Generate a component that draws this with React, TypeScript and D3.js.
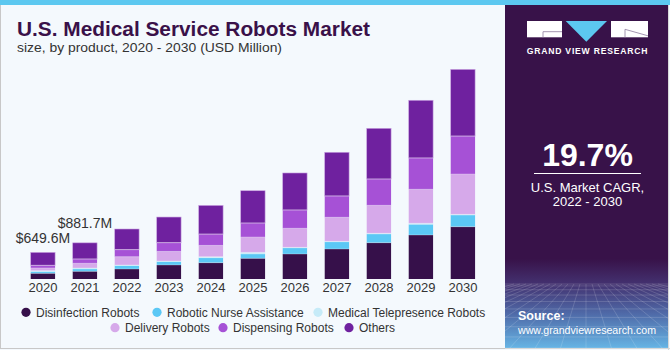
import React from 'react';
import * as d3 from 'd3';

// values in USD million
const years = ['2020', '2021', '2022', '2023', '2024', '2025', '2026', '2027', '2028', '2029', '2030'];
const disinfection = [139, 188, 244, 342, 398, 505, 610, 732, 886, 1074, 1276];
const nurseAssistance = [44, 56, 85, 85, 122, 105, 151, 176, 212, 261, 285];
const telepresence = [20, 24, 12, 12, 24, 41, 12, 12, 17, 24, 17];
const delivery = [66, 115, 203, 234, 276, 373, 464, 586, 683, 830, 983];
const dispensing = [66, 105, 171, 212, 276, 342, 447, 520, 642, 764, 927];
const others = [315, 394, 505, 627, 700, 788, 903, 1066, 1237, 1408, 1627];
const valueLabels = ['$649.6M', '$881.7M'];

const seriesNames = [
  'Disinfection Robots',
  'Robotic Nurse Assistance',
  'Medical Telepresence Robots',
  'Delivery Robots',
  'Dispensing Robots',
  'Others',
];
const colors = ['#36104a', '#5bc8f5', '#c6ebf8', '#d6a9ea', '#a651d6', '#6f219f'];

const W = 670;
const H = 350;
const font = '"Liberation Sans", Arial, sans-serif';

const App = () => {
  const rows = years.map((y, i) => ({
    year: y,
    s0: disinfection[i],
    s1: nurseAssistance[i],
    s2: telepresence[i],
    s3: delivery[i],
    s4: dispensing[i],
    s5: others[i],
  }));
  const keys = ['s0', 's1', 's2', 's3', 's4', 's5'];
  const stacked = d3.stack<any>().keys(keys)(rows);

  const x = d3.scaleBand().domain(years).range([21.9, 483.9]).paddingInner(0.42).paddingOuter(0.21);
  const y = d3.scaleLinear().domain([0, 5500]).range([279, 53.6]);

  const totals = rows.map((r) => keys.reduce((a, k) => a + r[k], 0));

  // legend layout: two centered rows
  const legendRows = [
    [{ i: 0, cx: 26 }, { i: 1, cx: 157 }, { i: 2, cx: 318 }],
    [{ i: 3, cx: 115 }, { i: 4, cx: 223 }, { i: 5, cx: 349 }],
  ];

  // decorative perspective grid in the bottom of the side panel
  const gridH = d3.range(0, 12).map((k) => 284 + Math.pow(k, 1.6) * 1.9);
  const gridV = d3.range(-12, 13).map((k) => k);

  return (
    <div style={{ margin: 0 }}>
      <svg width={W} height={H} style={{ display: 'block', position: 'absolute', left: 0, top: 0 }}>
        <defs>
          <linearGradient id="panelGrad" x1="0" y1="0" x2="0" y2="1">
            <stop offset="0" stopColor="#381249" />
            <stop offset="0.74" stopColor="#381249" />
            <stop offset="0.81" stopColor="#43306e" />
            <stop offset="0.9" stopColor="#4f6aa8" />
            <stop offset="1" stopColor="#66b4e4" />
          </linearGradient>
          <clipPath id="panelClip">
            <rect x={505} y={5} width={163} height={343} />
          </clipPath>
        </defs>

        <rect x={0} y={0} width={W} height={H} fill="#f4f9fd" />
        <rect x={0} y={0} width={W} height={5} fill="#5cc8f0" />
        <line x1={0.5} y1={5} x2={0.5} y2={348} stroke="#c8c8c8" />
        <line x1={0} y1={348.5} x2={505} y2={348.5} stroke="#c8c8c8" />

        {/* title */}
        <text
          x={17}
          y={35.5}
          fontFamily={font}
          fontWeight="bold"
          fontSize={19.5}
          fill="#3a1149"
          textLength={353}
          lengthAdjust="spacingAndGlyphs"
        >
          U.S. Medical Service Robots Market
        </text>
        <text
          x={17}
          y={52}
          fontFamily={font}
          fontSize={13.3}
          fill="#333"
          textLength={265}
          lengthAdjust="spacingAndGlyphs"
        >
          size, by product, 2020 - 2030 (USD Million)
        </text>

        {/* bars */}
        {stacked.map((layer, li) => (
          <g key={layer.key} fill={colors[li]}>
            {layer.map((d, j) => (
              <rect
                key={j}
                x={x(years[j])}
                y={y(d[1])}
                width={x.bandwidth()}
                height={Math.max(0, y(d[0]) - y(d[1]))}
                stroke={li === 5 ? '#c9a3e0' : 'none'}
                strokeWidth={li === 5 ? 0.6 : 0}
              />
            ))}
          </g>
        ))}
        {/* thin light separators between segments */}
        {stacked.slice(1).map((layer) =>
          layer.map((d, j) => (
            <line
              key={layer.key + j}
              x1={x(years[j])}
              x2={(x(years[j]) as number) + x.bandwidth()}
              y1={y(d[0])}
              y2={y(d[0])}
              stroke="#f4f9fd"
              strokeOpacity={0.5}
              strokeWidth={0.6}
            />
          ))
        )}

        {/* value labels */}
        {valueLabels.map((t, i) => (
          <text
            key={t}
            x={(x(years[i]) as number) + x.bandwidth() / 2}
            y={y(totals[i]) - (i === 0 ? 9 : 15)}
            textAnchor="middle"
            fontFamily={font}
            fontSize={14}
            fill="#333"
          >
            {t}
          </text>
        ))}

        {/* year labels */}
        {years.map((yr) => (
          <text
            key={yr}
            x={(x(yr) as number) + x.bandwidth() / 2}
            y={291.7}
            textAnchor="middle"
            fontFamily={font}
            fontSize={13}
            fill="#333"
          >
            {yr}
          </text>
        ))}

        {/* legend */}
        {legendRows.map((row, ri) =>
          row.map(({ i, cx }) => (
            <g key={i}>
              <circle cx={cx} cy={312.3 + ri * 15.4} r={4.6} fill={colors[i]} />
              <text x={cx + 10} y={316.6 + ri * 15.4} fontFamily={font} fontSize={12} fill="#333">
                {seriesNames[i]}
              </text>
            </g>
          ))
        )}

        {/* side panel */}
        <rect x={505} y={5} width={163} height={343} fill="url(#panelGrad)" />
        <g clipPath="url(#panelClip)" stroke="#ffffff" strokeOpacity={0.22} strokeWidth={0.7} fill="none">
          {gridH.map((gy, k) => (
            <line key={'h' + k} x1={505} x2={668} y1={gy} y2={gy} />
          ))}
          {gridV.map((k) => (
            <line key={'v' + k} x1={586 + k * 6} y1={284} x2={586 + k * 26} y2={350} />
          ))}
        </g>
        <line x1={668.5} y1={5} x2={668.5} y2={350} stroke="#d8d8d8" />
        <line x1={505} y1={348.5} x2={670} y2={348.5} stroke="#d8d8d8" />

        {/* logo */}
        <rect x={527} y={21} width={35} height={16.3} fill="#ffffff" />
        <path d="M543 37.3 V31.7 H562" stroke="#9a8aa8" strokeWidth={0.9} fill="none" />
        <path d="M565.7 21 L607 21 L586.3 41.7 Z" fill="#5cc8f0" />
        <rect x={611} y={21} width={37} height={16.3} fill="#ffffff" />
        <path d="M625 29.3 L648 35.8 M625 29.3 V37.3" stroke="#9a8aa8" strokeWidth={0.9} fill="none" />
        <text
          x={587.5}
          y={54}
          textAnchor="middle"
          fontFamily={font}
          fontWeight="bold"
          fontSize={8.6}
          letterSpacing={0.8}
          fill="#ffffff"
        >
          GRAND VIEW RESEARCH
        </text>

        <text x={587.5} y={166} textAnchor="middle" fontFamily={font} fontWeight="bold" fontSize={32} fill="#ffffff">
          19.7%
        </text>
        <line x1={534} x2={641} y1={173.5} y2={173.5} stroke="#ffffff" strokeWidth={1} />
        <text x={587.5} y={191.5} textAnchor="middle" fontFamily={font} fontSize={13} fill="#ffffff">
          U.S. Market CAGR,
        </text>
        <text x={587.5} y={206} textAnchor="middle" fontFamily={font} fontSize={13} fill="#ffffff">
          2022 - 2030
        </text>

        <text x={518} y={320} fontFamily={font} fontWeight="bold" fontSize={12.5} fill="#ffffff">
          Source:
        </text>
        <text
          x={518}
          y={334}
          fontFamily={font}
          fontSize={10.8}
          fill="#ffffff"
          textLength={138}
          lengthAdjust="spacingAndGlyphs"
        >
          www.grandviewresearch.com
        </text>
      </svg>
    </div>
  );
};

export default App;
